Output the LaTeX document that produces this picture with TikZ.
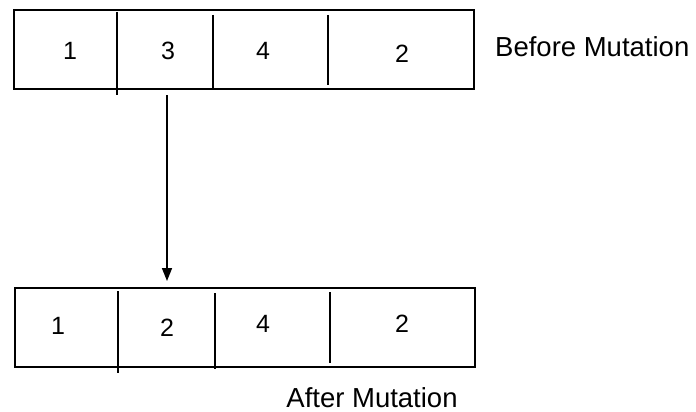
\documentclass[tikz,border=0pt]{standalone}
\usepackage{fontspec}
\setmainfont{Liberation Sans}
\usetikzlibrary{arrows.meta}
\begin{document}
\begin{tikzpicture}[x=1pt,y=-1pt,
  chrom/.style={draw, line width=2.2pt, rectangle, minimum width=460pt, minimum height=79pt, inner sep=0pt},
  cut/.style={line width=1.9pt},
  gene/.style={font=\fontsize{25}{25}\selectfont, inner sep=0pt},
  caption/.style={font=\fontsize{27.5}{28}\selectfont, inner sep=0pt, anchor=base},
  link/.style={line width=1.6pt, -{Triangle[length=13pt,width=10pt]}}]
\useasboundingbox[fill=white] (0,0) rectangle (696,412);

% chromosome before mutation
\node[chrom] (before) at (244,49.5) {};
\draw[cut] (117,12) -- (117,95);
\draw[cut] (213,15) -- (213,90);
\draw[cut] (328,15) -- (328,85);
\node[gene] (b1) at (70,51) {1};
\node[gene] (b2) at (168,51) {3};
\node[gene] (b3) at (263,51) {4};
\node[gene] (b4) at (402,54) {2};
\node[caption, anchor=base west] (blabel) at (495,57) {Before Mutation};

% chromosome after mutation
\node[chrom] (after) at (245,327.5) {};
\draw[cut] (118,291) -- (118,373);
\draw[cut] (215,293) -- (215,369);
\draw[cut] (330,292) -- (330,363);
\node[gene] (a1) at (58,326) {1};
\node[gene] (a2) at (167,327.5) {2};
\node[gene] (a3) at (263,323.5) {4};
\node[gene] (a4) at (402,324) {2};
\node[caption] (alabel) at (372,407.5) {After Mutation};

% mutation step
\coordinate (src) at (167,95);
\coordinate (dst) at (167,281);
\draw[link] (src) -- (dst);
\end{tikzpicture}
\end{document}
